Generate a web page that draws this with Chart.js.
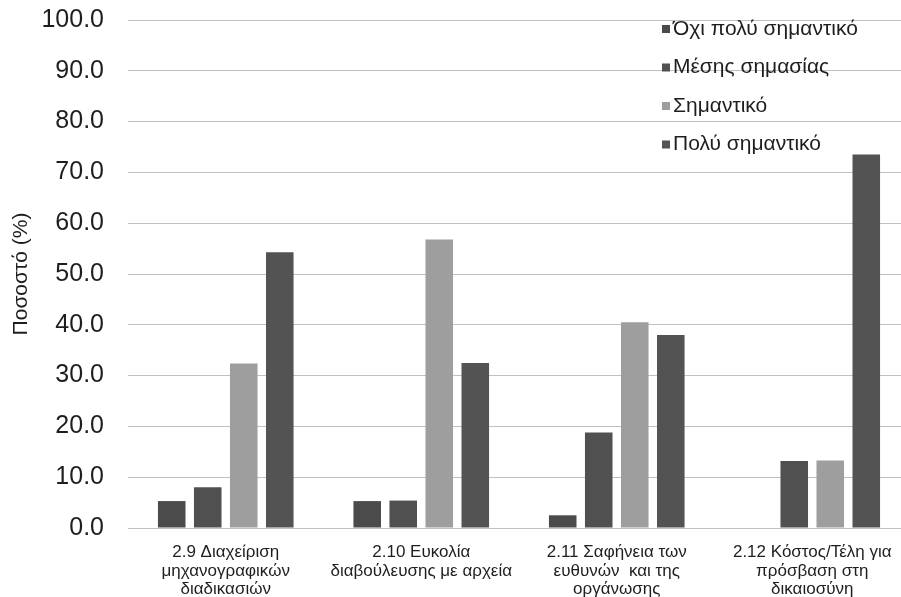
<!DOCTYPE html>
<html>
<head>
<meta charset="utf-8">
<script src="https://cdn.jsdelivr.net/npm/chart.js@4"></script>
<style>
  html, body { margin: 0; padding: 0; background: #fff; overflow: hidden; }
  #wrap { width: 910px; height: 597px; }
</style>
</head>
<body>
<div id="wrap"><canvas id="chart"></canvas></div>
<script>
// Κατηγορίες (πολλαπλές γραμμές ανά ετικέτα)
const kategories = [
    ['2.9 Διαχείριση', 'μηχανογραφικών', 'διαδικασιών'],
    ['2.10 Ευκολία', 'διαβούλευσης με αρχεία'],
    ['2.11 Σαφήνεια των', 'ευθυνών  και της', 'οργάνωσης'],
    ['2.12 Κόστος/Τέλη για', 'πρόσβαση στη', 'δικαιοσύνη']
];

const seires = ['Όχι πολύ σημαντικό', 'Μέσης σημασίας', 'Σημαντικό', 'Πολύ σημαντικό'];

// Ποσοστά (%) ανά σειρά
const oxiPolySimantiko = [5.3, 5.3, 2.5, 0];
const mesisSimasias    = [8.0, 5.4, 18.8, 13.2];
const simantiko        = [32.4, 56.8, 40.5, 13.3];
const polySimantiko    = [54.3, 32.5, 38.0, 73.5];

const yTicks = [0, 10, 20, 30, 40, 50, 60, 70, 80, 90, 100];

const xromata = ['#4b4b4b', '#505050', '#9e9e9e', '#535353'];
const FONT = "'Liberation Sans', Arial, sans-serif";

// υπόμνημα μέσα στην περιοχή του γραφήματος, πάνω δεξιά
const ypomnima = {
    id: 'ypomnima',
    afterDraw(chart) {
        const ctx = chart.ctx;
        const x = chart.chartArea.right - 248;
        ctx.save();
        ctx.font = '21px ' + FONT;
        ctx.textBaseline = 'middle';
        chart.data.datasets.forEach((ds, i) => {
            const y = chart.chartArea.top + 9 + i * 38.5;
            ctx.fillStyle = ds.backgroundColor;
            ctx.fillRect(x, y - 4, 8, 8);
            ctx.fillStyle = '#1e1e1e';
            ctx.fillText(ds.label, x + 11, y);
        });
        ctx.restore();
    }
};

const dedomena = [oxiPolySimantiko, mesisSimasias, simantiko, polySimantiko];

new Chart(document.getElementById('chart'), {
    type: 'bar',
    data: {
        labels: kategories,
        datasets: seires.map((s, i) => ({
            label: s,
            data: dedomena[i],
            backgroundColor: xromata[i],
            barPercentage: 0.765,
            categoryPercentage: 0.737
        }))
    },
    options: {
        responsive: true,
        maintainAspectRatio: false,
        animation: false,
        layout: { padding: { top: 20, right: 0, left: 0, bottom: 0 } },
        plugins: { legend: { display: false }, tooltip: { enabled: false } },
        scales: {
            x: {
                afterFit: axis => { axis.height = 69; },
                grid: { display: false },
                border: { display: false },
                ticks: { color: '#1e1e1e', font: { family: FONT, size: 17, lineHeight: 1.1 }, padding: 7, maxRotation: 0, autoSkip: false }
            },
            y: {
                min: 0, max: 100,
                afterBuildTicks: axis => { axis.ticks = yTicks.map(v => ({ value: v })); },
                afterFit: axis => { axis.width = 128; axis.paddingTop = 0; axis.paddingBottom = 0; },
                grid: { color: '#c0c0c0', lineWidth: 1, drawTicks: false },
                border: { display: false },
                ticks: {
                    color: '#1e1e1e', padding: 24,
                    font: { family: FONT, size: 25 },
                    callback: v => v.toFixed(1)
                },
                title: { display: true, text: 'Ποσοστό (%)', color: '#1e1e1e', font: { family: FONT, size: 21 }, padding: { top: 9, bottom: 4 } }
            }
        }
    },
    plugins: [ypomnima]
});
</script>
</body>
</html>
